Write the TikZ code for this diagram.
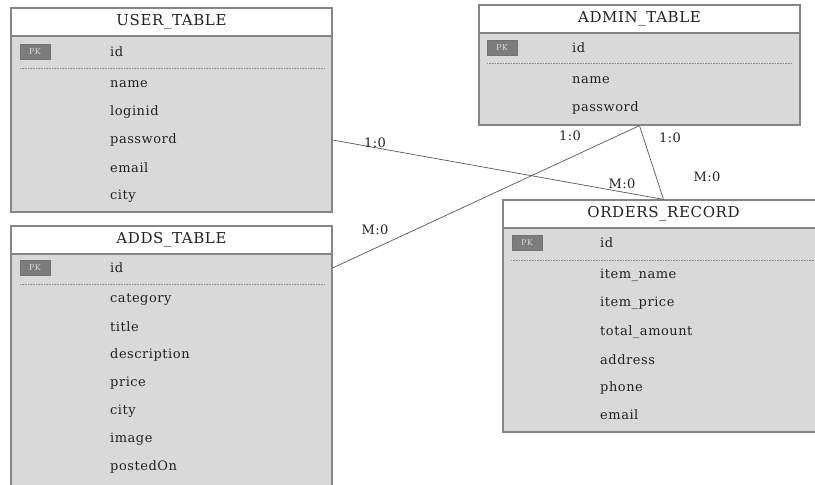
\documentclass[tikz,border=0pt]{standalone}
\usepackage{fontspec}
\setmainfont{DejaVu Serif}[LetterSpace=4]
\usepackage{tikz}
\usetikzlibrary{positioning}
\definecolor{rowgrey}{HTML}{D9D9D9}
\definecolor{framegrey}{HTML}{858585}
\definecolor{pkgrey}{HTML}{7C7C7C}
\definecolor{inkgrey}{HTML}{222222}
\tikzstyle{Table}=[rectangle, draw=framegrey, line width=1.2pt, fill=rowgrey, minimum width=321, inner sep=0]
\tikzstyle{Head}=[rectangle, draw=framegrey, line width=1.2pt, fill=white, minimum width=321, minimum height=28, inner sep=0, text=inkgrey, font=\fontsize{15}{17}\selectfont]
\tikzstyle{Key}=[rectangle, draw=black!55, fill=pkgrey, minimum width=30, minimum height=15, inner sep=0, text=black!15, font=\fontsize{8}{9}\selectfont]
\tikzstyle{Field}=[anchor=west, inner sep=0, text=inkgrey, font=\fontsize{13}{15}\selectfont]
\tikzstyle{Card}=[inner sep=0, text=inkgrey, font=\fontsize{13}{15}\selectfont]
\tikzstyle{Split}=[dashed, dash pattern=on 1pt off 0.6pt, draw=framegrey, line width=0.6pt]

\begin{document}
\begin{tikzpicture}[x=1pt, y=-1pt]
    \useasboundingbox (0,0) rectangle (815,485);
    \clip (0,0) rectangle (815,485);
    \fill[white] (0,0) rectangle (815,485);

    % tables
    \path
    (171.5,110) node[Table, minimum height=204] (user) {}
    (171.5,360.5) node[Table, minimum height=269] (adds) {}
    (639.5,65) node[Table, minimum height=120] (admin) {}
    (663.5,316) node[Table, minimum height=232] (orders) {};
    \path
    (user.north) node[Head, anchor=north] (user-head) {USER\_TABLE}
    (adds.north) node[Head, anchor=north] (adds-head) {ADDS\_TABLE}
    (admin.north) node[Head, anchor=north] (admin-head) {ADMIN\_TABLE}
    (orders.north) node[Head, anchor=north] (orders-head) {ORDERS\_RECORD};

    % USER_TABLE
    \path
    (35,52) node[Key] (user-pk) {PK}
    (110,52) node[Field] (user-id) {id}
    (110,84) node[Field] (user-name) {name}
    (110,112) node[Field] (user-login) {loginid}
    (110,140) node[Field] (user-pw) {password}
    (110,168) node[Field] (user-email) {email}
    (110,196) node[Field] (user-city) {city};
    \draw[Split] (20,68) -- (325,68);

    % ADDS_TABLE
    \path
    (35,268) node[Key] (adds-pk) {PK}
    (110,268) node[Field] (adds-id) {id}
    (110,300) node[Field] (adds-cat) {category}
    (110,327) node[Field] (adds-title) {title}
    (110,355) node[Field] (adds-desc) {description}
    (110,383) node[Field] (adds-price) {price}
    (110,411) node[Field] (adds-city) {city}
    (110,439) node[Field] (adds-image) {image}
    (110,467) node[Field] (adds-posted) {postedOn};
    \draw[Split] (20,284) -- (325,284);

    % ADMIN_TABLE
    \path
    (502,48) node[Key] (admin-pk) {PK}
    (572,48) node[Field] (admin-id) {id}
    (572,80) node[Field] (admin-name) {name}
    (572,108) node[Field] (admin-pw) {password};
    \draw[Split] (487,63) -- (792,63);

    % ORDERS_RECORD
    \path
    (527,243) node[Key] (orders-pk) {PK}
    (600,243) node[Field] (orders-id) {id}
    (600,275) node[Field] (orders-item) {item\_name}
    (600,303) node[Field] (orders-price) {item\_price}
    (600,332) node[Field] (orders-total) {total\_amount}
    (600,360) node[Field] (orders-addr) {address}
    (600,388) node[Field] (orders-phone) {phone}
    (600,415) node[Field] (orders-email) {email};
    \draw[Split] (511,260) -- (815,260);

    % relations
    \coordinate (user-out) at (user.east |- user-pw);
    \coordinate (adds-out) at (adds.east |- adds-id);
    \draw[black!65, line width=0.7pt] (user-out) -- (orders.north);
    \draw[black!65, line width=0.7pt] (admin.south) -- (adds-out);
    \draw[black!65, line width=0.7pt] (admin.south) -- (orders.north);
    \path
    (375,143) node[Card] (c1) {1:0}
    (622,184) node[Card] (c2) {M:0}
    (570,136) node[Card] (c3) {1:0}
    (375,230) node[Card] (c4) {M:0}
    (670,138) node[Card] (c5) {1:0}
    (707,177) node[Card] (c6) {M:0};
\end{tikzpicture}
\end{document}
